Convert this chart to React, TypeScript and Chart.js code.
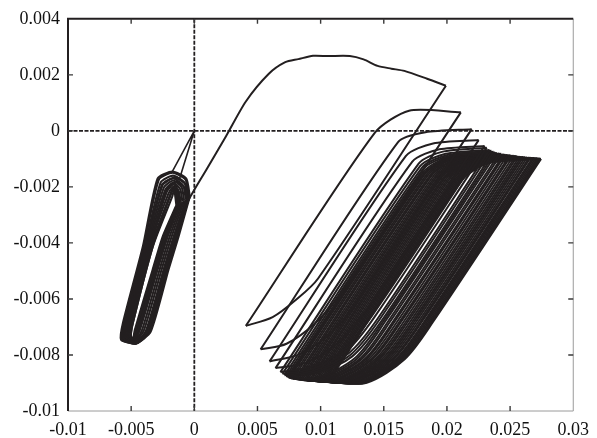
import React, { useEffect, useRef } from 'react';
import { Chart, registerables } from 'chart.js';

Chart.register(...registerables);

// ---- axis ticks ----
const xTickValues = [-0.01, -0.005, 0, 0.005, 0.01, 0.015, 0.02, 0.025, 0.03];
const xTickLabels = ['-0.01', '-0.005', '0', '0.005', '0.01', '0.015', '0.02', '0.025', '0.03'];
const yTickValues = [-0.01, -0.008, -0.006, -0.004, -0.002, 0, 0.002, 0.004];
const yTickLabels = ['-0.01', '-0.008', '-0.006', '-0.004', '-0.002', '0', '0.002', '0.004'];

// ---- short links from the origin into the small loops ----
const originPathX = [-0.0018, 0, -0.00118];
const originPathY = [-0.0015, 0, -0.00173];

// ---- small loops near x = -0.003 (one row per loop, closed) ----
const smallLoopsX = [
  [-0.000356, -0.000634, -0.001732, -0.002909, -0.004078, -0.005647, -0.005804, -0.004627, -0.003451, -0.002039, -0.001255],
  [-0.000425, -0.000692, -0.001711, -0.002809, -0.003999, -0.005568, -0.005725, -0.004627, -0.00353, -0.002118, -0.001334],
  [-0.000549, -0.000784, -0.001686, -0.002667, -0.003921, -0.00549, -0.005647, -0.004666, -0.003686, -0.002274, -0.00149],
  [-0.000674, -0.000877, -0.001662, -0.002525, -0.003843, -0.005412, -0.005569, -0.004706, -0.003843, -0.002431, -0.001647],
  [-0.00081, -0.000992, -0.001659, -0.002404, -0.003764, -0.005333, -0.00549, -0.004745, -0.004, -0.002588, -0.001804],
  [-0.000946, -0.001107, -0.001656, -0.002284, -0.003686, -0.005255, -0.005412, -0.004784, -0.004157, -0.002745, -0.001961],
  [-0.001082, -0.001221, -0.001652, -0.002162, -0.003607, -0.005176, -0.005333, -0.004823, -0.004314, -0.002902, -0.002118],
  [-0.001216, -0.001335, -0.001649, -0.002042, -0.003529, -0.005098, -0.005255, -0.004862, -0.00447, -0.003058, -0.002274],
  [-0.001352, -0.001449, -0.001646, -0.001921, -0.003451, -0.00502, -0.005177, -0.004902, -0.004627, -0.003215, -0.002431],
  [-0.001285, -0.001393, -0.001589, -0.001864, -0.003372, -0.004941, -0.005098, -0.004823, -0.004549, -0.003137, -0.002353],
  [-0.001149, -0.001278, -0.001513, -0.001828, -0.003294, -0.004863, -0.00502, -0.004705, -0.004392, -0.00298, -0.002196],
  [-0.00045, -0.000664, -0.001566, -0.002547, -0.003843, -0.005412, -0.005569, -0.004588, -0.003608, -0.002196, -0.001412],
  [-0.000564, -0.000736, -0.001402, -0.002148, -0.003529, -0.005098, -0.005255, -0.004509, -0.003765, -0.002353, -0.001569],
  [-0.001421, -0.001507, -0.001585, -0.001743, -0.003294, -0.004863, -0.00502, -0.004862, -0.004706, -0.003294, -0.00251],
];
const smallLoopsY = [
  [-0.002338, -0.001703, -0.001456, -0.001703, -0.004137, -0.006852, -0.007452, -0.007593, -0.007169, -0.004948, -0.003784],
  [-0.002356, -0.001738, -0.001491, -0.001738, -0.004137, -0.006852, -0.007452, -0.007593, -0.007169, -0.004948, -0.003784],
  [-0.002409, -0.001844, -0.001597, -0.001844, -0.004137, -0.006852, -0.007416, -0.007557, -0.007152, -0.004948, -0.003784],
  [-0.002462, -0.00195, -0.001703, -0.00195, -0.004137, -0.006852, -0.007416, -0.007557, -0.007152, -0.004948, -0.003784],
  [-0.002497, -0.00202, -0.001773, -0.00202, -0.004137, -0.006852, -0.007381, -0.007522, -0.007134, -0.004948, -0.003784],
  [-0.002532, -0.002091, -0.001844, -0.002091, -0.004137, -0.006852, -0.007381, -0.007522, -0.007134, -0.004948, -0.003784],
  [-0.002568, -0.002161, -0.001914, -0.002161, -0.004137, -0.006852, -0.007346, -0.007487, -0.007116, -0.004948, -0.003784],
  [-0.002603, -0.002232, -0.001985, -0.002232, -0.004137, -0.006852, -0.007346, -0.007487, -0.007116, -0.004948, -0.003784],
  [-0.002638, -0.002302, -0.002055, -0.002302, -0.004137, -0.006852, -0.00731, -0.007451, -0.007099, -0.004948, -0.003784],
  [-0.002621, -0.002267, -0.00202, -0.002267, -0.004137, -0.006852, -0.007346, -0.007487, -0.007116, -0.004948, -0.003784],
  [-0.002585, -0.002197, -0.00195, -0.002197, -0.004137, -0.006852, -0.007381, -0.007522, -0.007134, -0.004948, -0.003784],
  [-0.002444, -0.001915, -0.001668, -0.001915, -0.004137, -0.006852, -0.007452, -0.007593, -0.007169, -0.004948, -0.003784],
  [-0.002515, -0.002056, -0.001809, -0.002056, -0.004137, -0.006852, -0.007416, -0.007557, -0.007152, -0.004948, -0.003784],
  [-0.002656, -0.002338, -0.002091, -0.002338, -0.004137, -0.006852, -0.00731, -0.007451, -0.007099, -0.004948, -0.003784],
];

// ---- first large excursion (rising part before its first knee) ----
const firstLoadX = [-0.001, -0.00055, 0.001, 0.00251, 0.00408, 0.00588, 0.0072, 0.00824, 0.0094, 0.01059, 0.01231, 0.0134, 0.01451, 0.0156];
const firstLoadY = [-0.0032, -0.00255, -0.00135, -0.00019, 0.00105, 0.00203, 0.00245, 0.00256, 0.00268, 0.00267, 0.00267, 0.00255, 0.00232, 0.00222];

// ---- large cycles: key points of each cycle ----
const loadKneeX = [0.01663, 0.01427, 0.01613, 0.01674, 0.01726, 0.01776, 0.01789, 0.01803, 0.01815, 0.01813, 0.01815, 0.01822, 0.01837, 0.01849, 0.01865, 0.01877, 0.01892, 0.01906, 0.01918, 0.01932, 0.01944, 0.01957, 0.01971, 0.01984, 0.01998, 0.02011, 0.02023, 0.02038, 0.02051, 0.02065, 0.02076, 0.02089, 0.02101, 0.02113, 0.02122];
const loadKneeY = [0.00214, -0.00008, -0.0004, -0.0009, -0.0011, -0.00117, -0.00125, -0.00131, -0.00135, -0.00147, -0.00154, -0.00156, -0.00157, -0.00159, -0.0016, -0.00161, -0.00162, -0.00163, -0.00164, -0.00165, -0.00166, -0.00167, -0.00168, -0.00168, -0.00169, -0.0017, -0.00171, -0.00171, -0.00172, -0.00172, -0.00173, -0.00173, -0.00174, -0.00174, -0.00175];
const loadBendX = [0.01843, 0.017, 0.0183, 0.0189, 0.0194, 0.0196, 0.0199, 0.02005, 0.0202, 0.02022, 0.02028, 0.02032, 0.02047, 0.02059, 0.02075, 0.02087, 0.02102, 0.02116, 0.02128, 0.02142, 0.02154, 0.02167, 0.02181, 0.02194, 0.02208, 0.02221, 0.02233, 0.02248, 0.02261, 0.02275, 0.02286, 0.02299, 0.02311, 0.02323, 0.02332];
const loadBendY = [0.00186, 0.00072, -0.00005, -0.00045, -0.00066, -0.00075, -0.00082, -0.00086, -0.0009, -0.00092, -0.00094, -0.00096, -0.00097, -0.00099, -0.001, -0.00101, -0.00102, -0.00103, -0.00104, -0.00105, -0.00106, -0.00107, -0.00108, -0.00108, -0.00109, -0.0011, -0.00111, -0.00111, -0.00112, -0.00112, -0.00113, -0.00113, -0.00114, -0.00114, -0.00115];
const topX = [0.01992, 0.0211, 0.02196, 0.02251, 0.02298, 0.02315, 0.02337, 0.02352, 0.02369, 0.02382, 0.02395, 0.02415, 0.0243, 0.0245, 0.02462, 0.0248, 0.02498, 0.0251, 0.02528, 0.02545, 0.02558, 0.02575, 0.0259, 0.02605, 0.0262, 0.02635, 0.0265, 0.02662, 0.02678, 0.0269, 0.02702, 0.02715, 0.02725, 0.02736, 0.02745];
const topY = [0.00161, 0.00066, 0.00006, -0.00033, -0.00054, -0.0006, -0.00068, -0.00071, -0.00075, -0.00077, -0.00079, -0.00081, -0.00082, -0.00084, -0.00085, -0.00086, -0.00087, -0.00088, -0.00089, -0.0009, -0.00091, -0.00092, -0.00093, -0.00093, -0.00094, -0.00095, -0.00096, -0.00096, -0.00097, -0.00097, -0.00098, -0.00098, -0.00099, -0.00099, -0.001];
const unloadKneeX = [0.0098, 0.01171, 0.0129, 0.01359, 0.01407, 0.01426, 0.01452, 0.01464, 0.0148, 0.01491, 0.01504, 0.01527, 0.01544, 0.01567, 0.0158, 0.016, 0.01619, 0.01632, 0.01652, 0.0167, 0.01685, 0.01703, 0.0172, 0.01735, 0.01751, 0.01768, 0.01784, 0.01796, 0.01814, 0.01826, 0.01839, 0.01852, 0.01864, 0.01875, 0.01885];
const unloadKneeY = [-0.00527, -0.00573, -0.0061, -0.0064, -0.0066, -0.00665, -0.0067, -0.00675, -0.0068, -0.00683, -0.00685, -0.00685, -0.00685, -0.00685, -0.00685, -0.00685, -0.00685, -0.00685, -0.00685, -0.00685, -0.00685, -0.00685, -0.00685, -0.00685, -0.00685, -0.00685, -0.00685, -0.00685, -0.00685, -0.00685, -0.00685, -0.00685, -0.00685, -0.00685, -0.00685];
const unloadBend1X = [0.008, 0.0096, 0.0107, 0.0113, 0.0118, 0.012, 0.0122, 0.01235, 0.0125, 0.0127, 0.01284, 0.01307, 0.01324, 0.01347, 0.0136, 0.0138, 0.01399, 0.01412, 0.01432, 0.0145, 0.01465, 0.01483, 0.015, 0.01515, 0.01531, 0.01548, 0.01564, 0.01576, 0.01594, 0.01606, 0.01619, 0.01632, 0.01644, 0.01655, 0.01665];
const unloadBend1Y = [-0.00605, -0.00685, -0.00725, -0.0076, -0.00782, -0.00788, -0.00795, -0.008, -0.00805, -0.00812, -0.00815, -0.00815, -0.00815, -0.00815, -0.00815, -0.00815, -0.00815, -0.00815, -0.00815, -0.00815, -0.00815, -0.00815, -0.00815, -0.00815, -0.00815, -0.00815, -0.00815, -0.00815, -0.00815, -0.00815, -0.00815, -0.00815, -0.00815, -0.00815, -0.00815];
const unloadBend2X = [0.0062, 0.0073, 0.0083, 0.0088, 0.0092, 0.00935, 0.0095, 0.00965, 0.0098, 0.00982, 0.00984, 0.01007, 0.01024, 0.01047, 0.0106, 0.0108, 0.01099, 0.01112, 0.01132, 0.0115, 0.01165, 0.01183, 0.012, 0.01215, 0.01231, 0.01248, 0.01264, 0.01276, 0.01294, 0.01306, 0.01319, 0.01332, 0.01344, 0.01355, 0.01365];
const unloadBend2Y = [-0.00665, -0.0076, -0.00798, -0.00828, -0.00843, -0.00849, -0.00855, -0.00859, -0.00863, -0.0088, -0.00884, -0.00886, -0.00887, -0.00888, -0.00889, -0.0089, -0.0089, -0.00891, -0.00892, -0.00892, -0.00893, -0.00893, -0.00894, -0.00894, -0.00895, -0.00895, -0.00896, -0.00896, -0.00897, -0.00897, -0.00897, -0.00898, -0.00898, -0.00898, -0.00899];
const bottomX = [0.00408, 0.00525, 0.00596, 0.00643, 0.00682, 0.00698, 0.00714, 0.00726, 0.00737, 0.00746, 0.00755, 0.00768, 0.00782, 0.00798, 0.0081, 0.00825, 0.0084, 0.00852, 0.00866, 0.0088, 0.00893, 0.00908, 0.0092, 0.00935, 0.00948, 0.00962, 0.00975, 0.0099, 0.01002, 0.01015, 0.01028, 0.0104, 0.01052, 0.01062, 0.01072];
const bottomY = [-0.00696, -0.0078, -0.00823, -0.00847, -0.00861, -0.00867, -0.00872, -0.00876, -0.00879, -0.00881, -0.00882, -0.00884, -0.00885, -0.00886, -0.00887, -0.00888, -0.00888, -0.00889, -0.0089, -0.0089, -0.00891, -0.00891, -0.00892, -0.00892, -0.00893, -0.00893, -0.00894, -0.00894, -0.00895, -0.00895, -0.00895, -0.00896, -0.00896, -0.00896, -0.00897];

const INK = '#231f20';

type P = { x: number; y: number };
const zipPts = (xs: number[], ys: number[]): P[] => xs.map((v, i) => ({ x: v, y: ys[i] }));

function buildDatasets() {
  const sets: any[] = [];
  const line = (data: P[], tension = 0, width = 2) => ({
    data,
    showLine: true,
    borderColor: INK,
    borderWidth: width,
    pointRadius: 0,
    fill: false,
    tension,
    borderJoinStyle: 'round',
  });
  sets.push(line(zipPts(originPathX, originPathY), 0, 1.6));
  smallLoopsX.forEach((xs, i) => {
    const pts = zipPts(xs, smallLoopsY[i]);
    pts.push(pts[0]);
    sets.push(line(pts, 0.2, 2.1));
  });
  for (let k = 0; k < topX.length; k++) {
    const start: P[] = k === 0 ? zipPts(firstLoadX, firstLoadY) : [{ x: bottomX[k - 1], y: bottomY[k - 1] }];
    const top = { x: topX[k], y: topY[k] };
    const loading: P[] = [...start, { x: loadKneeX[k], y: loadKneeY[k] }, { x: loadBendX[k], y: loadBendY[k] }, top];
    const unloading: P[] = [
      top,
      { x: unloadKneeX[k], y: unloadKneeY[k] },
      { x: unloadBend1X[k], y: unloadBend1Y[k] },
      { x: unloadBend2X[k], y: unloadBend2Y[k] },
      { x: bottomX[k], y: bottomY[k] },
    ];
    sets.push(line(loading, 0.25, 2));
    sets.push(line(unloading, 0.3, 2));
  }
  return sets;
}

const framePlugin = {
  id: 'framePlugin',
  beforeDatasetsDraw(chart: any) {
    const { ctx, chartArea: a, scales } = chart;
    const x0 = scales.x.getPixelForValue(0);
    const y0 = scales.y.getPixelForValue(0);
    ctx.save();
    ctx.strokeStyle = INK;
    ctx.lineWidth = 1.8;
    ctx.setLineDash([4, 1.5]);
    ctx.beginPath();
    ctx.moveTo(x0, a.top);
    ctx.lineTo(x0, a.bottom);
    ctx.moveTo(a.left, y0);
    ctx.lineTo(a.right, y0);
    ctx.stroke();
    ctx.restore();
  },
  afterDraw(chart: any) {
    const { ctx, chartArea: a, scales } = chart;
    ctx.save();
    ctx.setLineDash([]);
    ctx.strokeStyle = '#9a9a9a';
    ctx.lineWidth = 1;
    ctx.beginPath();
    ctx.moveTo(a.right, a.top);
    ctx.lineTo(a.right, a.bottom);
    ctx.lineTo(a.left, a.bottom);
    ctx.stroke();
    ctx.strokeStyle = INK;
    ctx.lineWidth = 2;
    ctx.beginPath();
    ctx.moveTo(a.left, a.bottom);
    ctx.lineTo(a.left, a.top);
    ctx.lineTo(a.right, a.top);
    ctx.stroke();
    ctx.strokeStyle = '#3a3a3a';
    ctx.lineWidth = 1.4;
    ctx.beginPath();
    xTickValues.forEach((v) => {
      const px = scales.x.getPixelForValue(v);
      if (px <= a.left + 1 || px >= a.right - 1) return;
      ctx.moveTo(px, a.bottom);
      ctx.lineTo(px, a.bottom - 5);
      ctx.moveTo(px, a.top);
      ctx.lineTo(px, a.top + 5);
    });
    yTickValues.forEach((v) => {
      const py = scales.y.getPixelForValue(v);
      if (py <= a.top + 1 || py >= a.bottom - 1) return;
      ctx.moveTo(a.left, py);
      ctx.lineTo(a.left + 5, py);
      ctx.moveTo(a.right, py);
      ctx.lineTo(a.right - 5, py);
    });
    ctx.stroke();
    ctx.restore();
  },
};

export default function App() {
  const ref = useRef<HTMLCanvasElement | null>(null);
  useEffect(() => {
    if (!ref.current) return;
    const font = { family: '"Liberation Serif", "Times New Roman", serif', size: 18 };
    const chart = new Chart(ref.current, {
      type: 'scatter',
      data: { datasets: buildDatasets() },
      options: {
        animation: false,
        responsive: false,
        devicePixelRatio: 1,
        layout: { padding: { top: 14, right: 19, left: 0, bottom: 0 } },
        plugins: { legend: { display: false }, tooltip: { enabled: false } },
        scales: {
          x: {
            type: 'linear',
            min: -0.01,
            max: 0.03,
            afterBuildTicks: (axis: any) => {
              axis.ticks = xTickValues.map((v) => ({ value: v }));
            },
            afterFit: (axis: any) => {
              axis.height = 27;
            },
            grid: { display: false, drawTicks: false },
            border: { display: false },
            ticks: {
              autoSkip: false,
              maxRotation: 0,
              padding: 8,
              color: '#111',
              font,
              callback: (_v: any, i: number) => xTickLabels[i],
            },
          },
          y: {
            type: 'linear',
            min: -0.01,
            max: 0.004,
            afterBuildTicks: (axis: any) => {
              axis.ticks = yTickValues.map((v) => ({ value: v }));
            },
            afterFit: (axis: any) => {
              axis.width = 68;
            },
            grid: { display: false, drawTicks: false },
            border: { display: false },
            ticks: {
              autoSkip: false,
              padding: 8,
              color: '#111',
              font,
              callback: (_v: any, i: number) => yTickLabels[i],
            },
          },
        },
      },
      plugins: [framePlugin],
    } as any);
    return () => chart.destroy();
  }, []);
  return (
    <div style={{ position: 'fixed', left: 0, top: 0, width: 597, height: 438, background: '#fff' }}>
      <canvas ref={ref} width={597} height={438} style={{ display: 'block' }} />
    </div>
  );
}
